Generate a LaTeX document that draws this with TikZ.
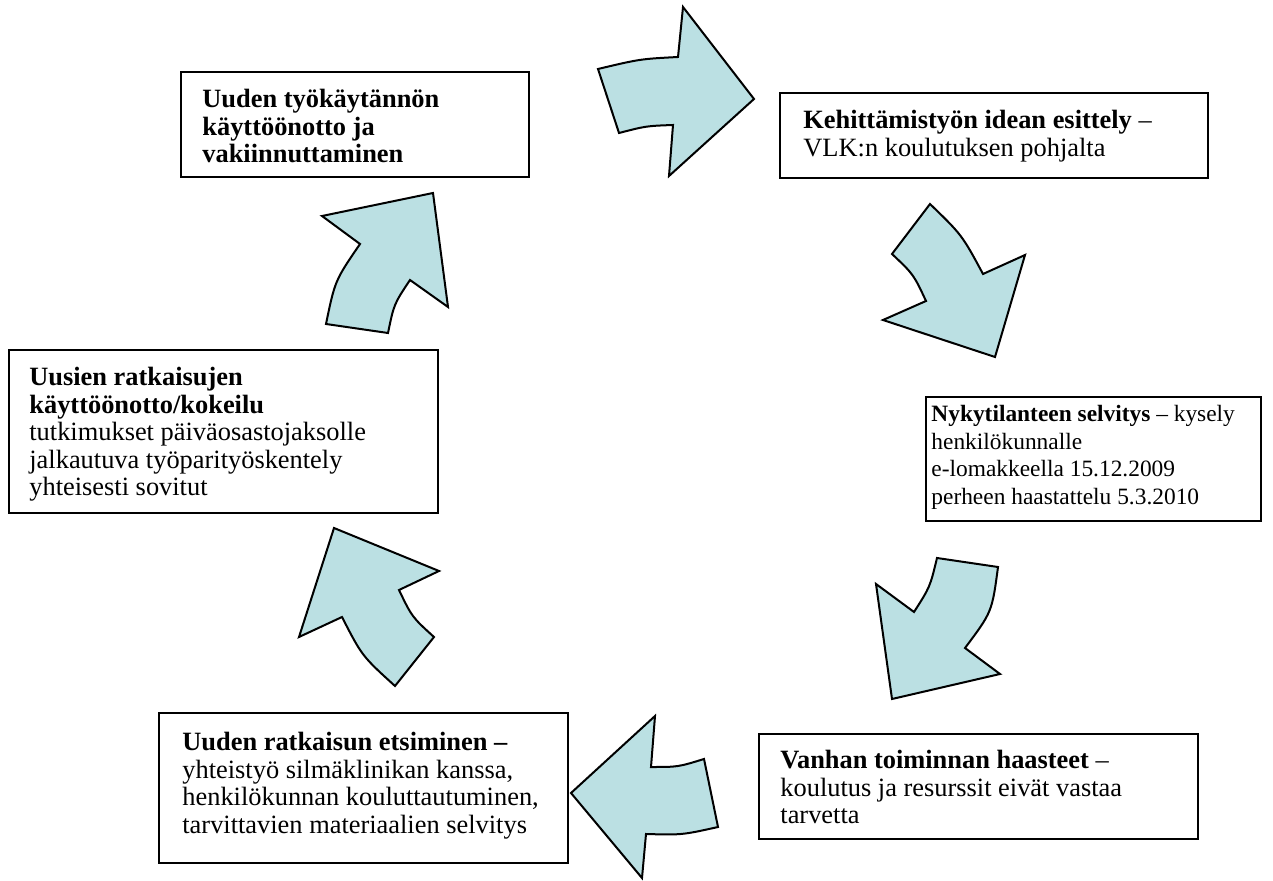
\documentclass[tikz,border=0pt]{standalone}
\usepackage{fontspec}
\setmainfont{Liberation Serif}
\definecolor{arrowfill}{HTML}{BBE0E3}
\begin{document}
\begin{tikzpicture}[x=0.5pt,y=-0.5pt,
  boxst/.style={draw=black, line width=1pt, fill=white, inner sep=0pt, anchor=north west},
  txt/.style={inner sep=0pt, align=left, anchor=north west, font=\fontsize{13.2}{13.75}\selectfont},
  smalltxt/.style={txt, font=\fontsize{11.7}{13.8}\selectfont},
  blockarrow/.style={fill=arrowfill, draw=black, line width=1pt, line join=miter}]
\useasboundingbox (0,0) rectangle (1273,881);

% boxes
\node[boxst, minimum width=174pt, minimum height=52.5pt] (b1) at (180,71) {};
\node[boxst, minimum width=214pt, minimum height=42.5pt] (b2) at (779,92) {};
\node[boxst, minimum width=167.5pt, minimum height=62pt] (b3) at (925,396) {};
\node[boxst, minimum width=219.5pt, minimum height=52.5pt] (b4) at (758,733) {};
\node[boxst, minimum width=204.5pt, minimum height=75pt] (b5) at (158,712) {};
\node[boxst, minimum width=214.5pt, minimum height=81.5pt] (b6) at (8,349) {};

% texts
\node[txt, font=\fontsize{13.2}{13.75}\selectfont\bfseries] (t1) at (202,89)
  {Uuden työkäytännön\\käyttöönotto ja\\vakiinnuttaminen};
\node[txt] (t2) at (803,110)
  {\textbf{Kehittämistyön idean esittely} –\\VLK:n koulutuksen pohjalta};
\node[smalltxt] (t3) at (931,405)
  {\textbf{Nykytilanteen selvitys} – kysely\\henkilökunnalle\\e-lomakkeella 15.12.2009\\perheen haastattelu 5.3.2010};
\node[txt] (t4) at (780,750)
  {\textbf{Vanhan toiminnan haasteet} –\\koulutus ja resurssit eivät vastaa\\tarvetta};
\node[txt] (t5) at (182,732)
  {\textbf{Uuden ratkaisun etsiminen –}\\yhteistyö silmäklinikan kanssa,\\henkilökunnan kouluttautuminen,\\tarvittavien materiaalien selvitys};
\node[txt] (t6) at (29,367)
  {\textbf{Uusien ratkaisujen}\\\textbf{käyttöönotto/kokeilu}\\tutkimukset päiväosastojaksolle\\jalkautuva työparityöskentely\\yhteisesti sovitut};

% curved block arrows
\draw[blockarrow] (598,69) .. controls (640,59) .. (678,57) -- (683,7) -- (754,99)
  -- (669,176) -- (673,125) .. controls (646,126) .. (619,133) -- cycle;
\draw[blockarrow] (930,204) -- (892,254) .. controls (913.5,274.3) .. (926,301)
  -- (883,320) -- (995,357) -- (1025,255) -- (983,274) .. controls (962,235) .. (930,204) -- cycle;
\draw[blockarrow] (937,558) -- (998,567) .. controls (992,612) .. (965,648)
  -- (1000,674) -- (892,699) -- (876,584) -- (914,612) .. controls (930,587) .. (937,558) -- cycle;
\draw[blockarrow] (571,793) -- (655,716) -- (651,767) .. controls (678,767) .. (704,759)
  -- (718,827) .. controls (682,835) .. (646,834) -- (642,878) -- cycle;
\draw[blockarrow] (334,528) -- (439,571) -- (399,590) .. controls (412,617) .. (434,637)
  -- (395,686) .. controls (362,656) .. (342,617) -- (299,637) -- cycle;
\draw[blockarrow] (322,216) -- (433,193) -- (448,307) -- (410,280) .. controls (394,304) .. (388,333)
  -- (326,324) .. controls (335,280.5) .. (360,244) -- cycle;
\end{tikzpicture}
\end{document}
